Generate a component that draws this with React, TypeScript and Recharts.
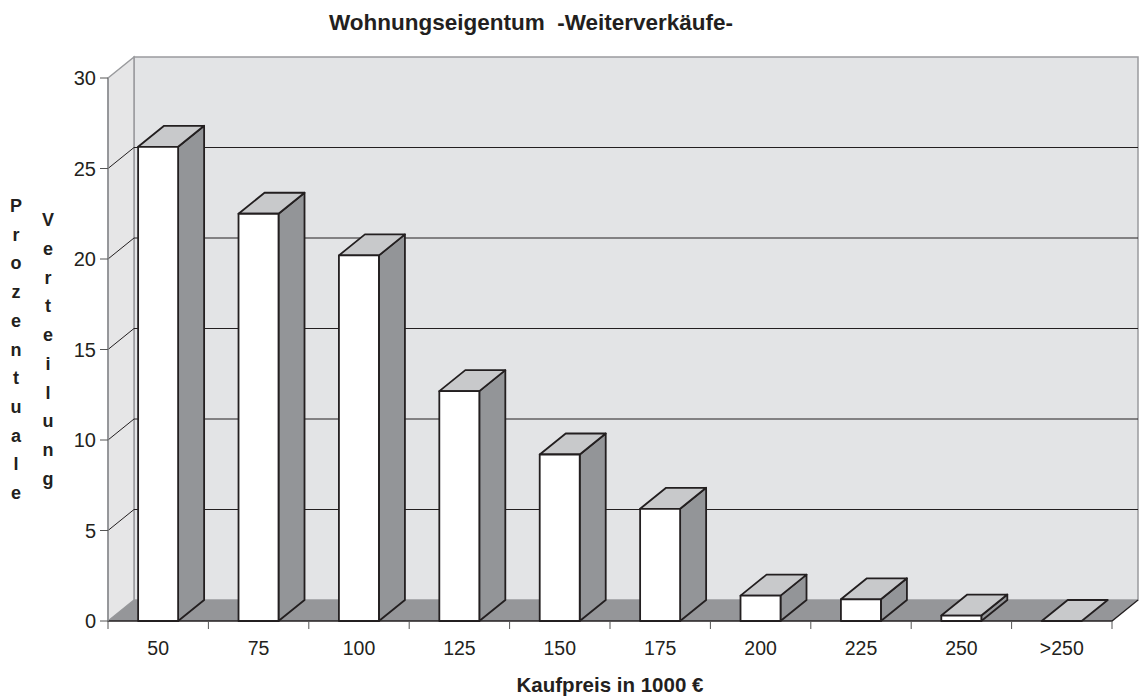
import { BarChart, Bar, XAxis, YAxis, ReferenceArea, ReferenceLine } from 'recharts';

const categories = ['50', '75', '100', '125', '150', '175', '200', '225', '250', '>250'];
const shares = [26.2, 22.5, 20.2, 12.7, 9.2, 6.2, 1.4, 1.2, 0.3, 0];
const yTicks = [0, 5, 10, 15, 20, 25, 30];
const gridTicks = [5, 10, 15, 20, 25];
const slotTicks = [0, 1, 2, 3, 4, 5, 6, 7, 8, 9, 10];
const yLabelLeft = 'Prozentuale';
const yLabelRight = 'Verteilung';

const data = categories.map((name, i) => ({ name, value: shares[i], slot: i + 0.5 }));

// depth of the fake 3d box
const DX = 26;
const DY = -21;
const EDGE = '#231f20';
const FONT = '"Liberation Sans", Arial, sans-serif';

function Walls(props: any) {
  const { x, y, width, height } = props;
  const bottom = y + height;
  const right = x + width;
  return (
    <g>
      <rect x={x + DX} y={y + DY} width={width} height={height} fill="#e3e4e6" stroke="#9a9b9e" strokeWidth={1.5} />
      <polygon
        points={`${x},${y} ${x + DX},${y + DY} ${x + DX},${bottom + DY} ${x},${bottom}`}
        fill="#e6e6e7"
        stroke="#9a9b9e"
        strokeWidth={1.5}
      />
      <polygon
        points={`${x},${bottom} ${right},${bottom} ${right + DX},${bottom + DY} ${x + DX},${bottom + DY}`}
        fill="#959699"
      />
      <polyline
        points={`${x},${bottom} ${right},${bottom} ${right + DX},${bottom + DY}`}
        fill="none"
        stroke={EDGE}
        strokeWidth={1.3}
      />
    </g>
  );
}

function GridLine(props: any) {
  const { x1, y1, x2, y2 } = props;
  return (
    <polyline
      points={`${x1},${y1} ${x1 + DX},${y1 + DY} ${x2 + DX},${y2 + DY}`}
      fill="none"
      stroke={EDGE}
      strokeWidth={1}
    />
  );
}

// short tick below the front floor edge at each category boundary
function SlotTick(props: any) {
  const { x1, y1, y2 } = props;
  const base = Math.max(y1, y2);
  return <line x1={x1} y1={base} x2={x1} y2={base + 8} stroke="#555" strokeWidth={1} />;
}

function Box(props: any) {
  const { x, y, width, height } = props;
  const w = width;
  const h = Math.max(height, 0);
  return (
    <g stroke={EDGE} strokeWidth={1.8} strokeLinejoin="round">
      {h > 0 && (
        <polygon
          points={`${x + w},${y} ${x + w + DX},${y + DY} ${x + w + DX},${y + h + DY} ${x + w},${y + h}`}
          fill="#939598"
        />
      )}
      <polygon points={`${x},${y} ${x + DX},${y + DY} ${x + w + DX},${y + DY} ${x + w},${y}`} fill="#c8c9cb" />
      {h > 0 && <rect x={x} y={y} width={w} height={h} fill="#ffffff" />}
    </g>
  );
}

function YTitle(props: any) {
  const vb = props.viewBox;
  const mid = vb.y + vb.height / 2;
  const step = 28.7;
  const col = (word: string, cx: number) =>
    word.split('').map((ch, i) => (
      <text
        key={word + i}
        x={cx}
        y={mid + (i - (word.length - 1) / 2) * step}
        textAnchor="middle"
        dominantBaseline="central"
        fontFamily={FONT}
        fontWeight="bold"
        fontSize={18}
        fill={EDGE}
      >
        {ch}
      </text>
    ));
  return (
    <g>
      {col(yLabelLeft, vb.x + 8)}
      {col(yLabelRight, vb.x + 40)}
    </g>
  );
}

export default function App() {
  return (
    <div style={{ position: 'absolute', left: 0, top: 0, width: 1140, height: 696, background: '#fff' }}>
      <div
        style={{
          position: 'absolute',
          left: 0,
          top: 10,
          width: 1062,
          textAlign: 'center',
          fontFamily: FONT,
          fontWeight: 'bold',
          fontSize: 22.5,
          color: EDGE,
        }}
      >
        Wohnungseigentum&nbsp;&nbsp;-Weiterverkäufe-
      </div>
      <BarChart
        width={1140}
        height={696}
        data={data}
        margin={{ top: 78, right: 28, bottom: 45, left: 8 }}
        barCategoryGap="30%"
      >
        <XAxis xAxisId="num" type="number" dataKey="slot" domain={[0, 10]} ticks={slotTicks} hide />
        <XAxis
          dataKey="name"
          xAxisId="cat"
          tickLine={false}
          axisLine={false}
          height={30}
          tick={{ fill: EDGE, fontSize: 19.5, fontFamily: FONT, dy: 12 }}
          label={{
            value: 'Kaufpreis in 1000 €',
            position: 'insideBottom',
            offset: -41,
            fill: EDGE,
            fontSize: 20.5,
            fontWeight: 'bold',
            fontFamily: FONT,
          }}
        />
        <YAxis
          width={100}
          domain={[0, 30]}
          ticks={yTicks}
          tickSize={8}
          axisLine={{ stroke: '#8e8f92', strokeWidth: 1.5 }}
          tickLine={{ stroke: '#555' }}
          tick={{ fill: EDGE, fontSize: 20, fontFamily: FONT, dx: -2 }}
          label={{ content: YTitle }}
        />
        <ReferenceArea
          xAxisId="num"
          x1={0}
          x2={10}
          y1={0}
          y2={30}
          shape={Walls}
          zIndex={-200}
        />
        {gridTicks.map((t) => (
          <ReferenceLine key={'g' + t} xAxisId="num" y={t} shape={GridLine} zIndex={-100} />
        ))}
        {slotTicks.map((s) => (
          <ReferenceLine key={'s' + s} xAxisId="num" x={s} shape={SlotTick} zIndex={-100} />
        ))}
        <Bar dataKey="value" xAxisId="cat" shape={Box} isAnimationActive={false} />
      </BarChart>
    </div>
  );
}
